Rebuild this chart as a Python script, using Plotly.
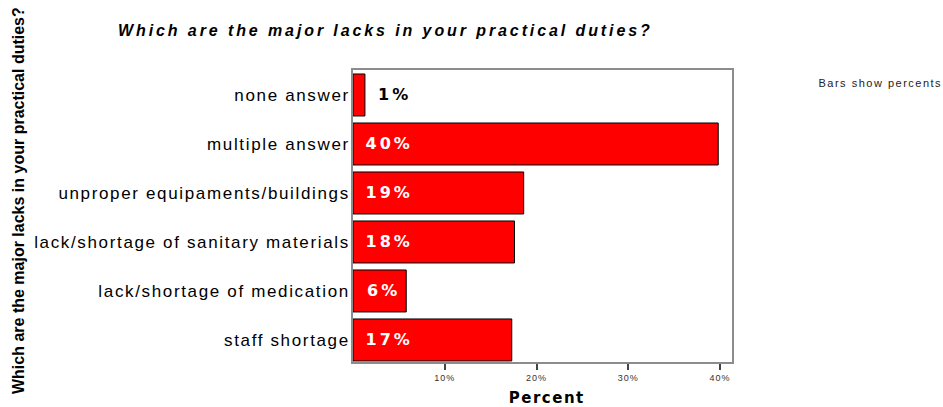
import plotly.graph_objects as go

# Survey responses, listed top to bottom as drawn
categories = [
    "none answer",
    "multiple answer",
    "unproper equipaments/buildings",
    "lack/shortage of sanitary materials",
    "lack/shortage of medication",
    "staff shortage",
]
percents = [1.3, 39.8, 18.6, 17.6, 5.8, 17.3]
x_ticks = [10, 20, 30, 40]
x_tick_labels = ["10%", "20%", "30%", "40%"]

title_text = "Which are the major lacks in your practical duties?"
FONT = "Liberation Sans, Arial, Helvetica, sans-serif"
HEAVY = "DejaVu Sans, Verdana, sans-serif"

W, H = 943, 407
L, R, T, B = 353, 211, 70, 45
pw, ph = W - L - R, H - T - B


def px_x(p):
    return (p - L) / pw


def px_y(p):
    return (H - B - p) / ph


fig = go.Figure(
    go.Bar(
        x=percents,
        y=categories,
        orientation="h",
        marker=dict(color="#ff0000", line=dict(color="#000000", width=1)),
        hoverinfo="skip",
    )
)

# Value labels: white inside wide bars, black just past very short ones
annotations = []
for cat, val in zip(categories, percents):
    inside = val >= 3
    annotations.append(
        dict(
            x=0 if inside else val,
            y=cat,
            xref="x",
            yref="y",
            text=f"<b>{val:.0f}%</b>",
            showarrow=False,
            xanchor="left",
            yanchor="middle",
            xshift=15 if inside else 14,
            font=dict(family=HEAVY, size=16, color="#ffffff" if inside else "#000000"),
        )
    )

# Rotated variable name on the far left
annotations.append(
    dict(
        x=px_x(18), y=px_y(201), xref="paper", yref="paper",
        text="<b>" + title_text + "</b>",
        textangle=-90, showarrow=False,
        xanchor="center", yanchor="middle",
        font=dict(family=FONT, size=16, color="#000000"),
    )
)
# X axis caption
annotations.append(
    dict(
        x=px_x(546), y=px_y(398), xref="paper", yref="paper",
        text="<b>Percent</b>", showarrow=False,
        xanchor="center", yanchor="middle",
        font=dict(family=HEAVY, size=15, color="#000000"),
    )
)
# Side note
annotations.append(
    dict(
        x=px_x(880), y=px_y(83), xref="paper", yref="paper",
        text="Bars show percents", showarrow=False,
        xanchor="center", yanchor="middle",
        font=dict(family=FONT, size=11, color="#222222"),
    )
)

fig.update_layout(
    width=W,
    height=H,
    margin=dict(l=L, r=R, t=T, b=B, pad=0),
    paper_bgcolor="#ffffff",
    plot_bgcolor="#ffffff",
    showlegend=False,
    bargap=0.143,
    title=dict(
        text="<b><i>" + title_text + "</i></b>",
        xref="container", yref="container",
        x=118 / W, xanchor="left",
        y=1 - 30 / H, yanchor="middle",
        font=dict(family=FONT, size=16, color="#000000"),
    ),
    xaxis=dict(
        range=[0, 41.3],
        tickvals=x_ticks,
        ticktext=x_tick_labels,
        ticks="outside",
        ticklen=6,
        tickwidth=2,
        tickcolor="#444444",
        tickfont=dict(family=FONT, size=9, color="#333333"),
        showgrid=False,
        zeroline=False,
        showline=True,
        mirror=True,
        linecolor="#8c8c8c",
        linewidth=1.5,
        fixedrange=True,
    ),
    yaxis=dict(
        type="category",
        range=[5.45, -0.51],
        ticks="",
        tickfont=dict(family=FONT, size=17, color="#000000"),
        ticklabelstandoff=-2,
        showgrid=False,
        zeroline=False,
        showline=True,
        mirror=True,
        linecolor="#8c8c8c",
        linewidth=1.5,
        fixedrange=True,
    ),
    annotations=annotations,
)

# Loose letter spacing on the labels and titles
post = """
var gd = document.getElementById('{plot_id}');
gd.querySelectorAll('.ytick text').forEach(function(t){ t.style.letterSpacing = '1.65px'; });
gd.querySelectorAll('.xtick text').forEach(function(t){ t.style.letterSpacing = '1px'; });
gd.querySelectorAll('.gtitle').forEach(function(t){ t.style.letterSpacing = '2.9px'; });
gd.querySelectorAll('.annotation-text').forEach(function(t){
  var s = t.textContent;
  if (/%$/.test(s)) { t.style.letterSpacing = '3px'; }
  else if (s === 'Percent') { t.style.letterSpacing = '1.5px'; }
  else if (s === 'Bars show percents') { t.style.letterSpacing = '1.5px'; }
});
"""

fig.write_html("out.html", config={"displayModeBar": False}, post_script=post)
